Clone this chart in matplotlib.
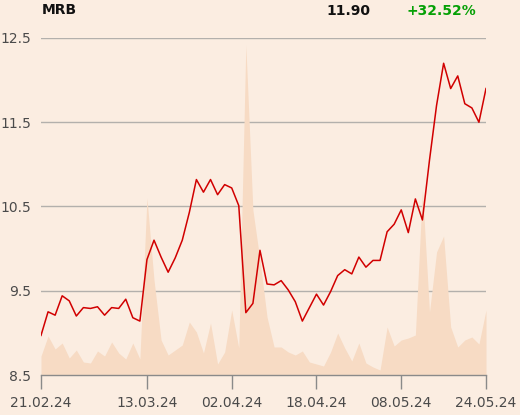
import matplotlib
matplotlib.use("Agg")
import matplotlib.pyplot as plt
import pandas as pd

# ---- data ----
ticker = "MRB"
last_price = "11.90"
change = "+32.52%"

holidays = ["2024-03-29", "2024-04-01", "2024-04-25", "2024-05-01"]
dates = [d for d in pd.bdate_range("2024-02-21", "2024-05-24")
         if d.strftime("%Y-%m-%d") not in holidays]
date_labels = [d.strftime("%d.%m.%y") for d in dates]

tick_labels = ["21.02.24", "13.03.24", "02.04.24", "18.04.24", "08.05.24", "24.05.24"]

price = [8.97, 9.25, 9.21, 9.44, 9.38, 9.20, 9.30, 9.29, 9.31, 9.21,
         9.30, 9.29, 9.40, 9.18, 9.14, 9.87, 10.10, 9.90, 9.72, 9.89,
         10.10, 10.43, 10.82, 10.67, 10.82, 10.64, 10.76, 10.72, 10.51, 9.24,
         9.35, 9.98, 9.58, 9.57, 9.62, 9.51, 9.37, 9.14, 9.30, 9.46,
         9.33, 9.49, 9.68, 9.75, 9.70, 9.90, 9.78, 9.86, 9.86, 10.20,
         10.29, 10.46, 10.19, 10.59, 10.34, 11.05, 11.70, 12.20, 11.90, 12.05,
         11.72, 11.67, 11.50, 11.90]

volume = [19, 39, 26, 32, 17, 25, 13, 12, 24, 19,
          33, 22, 16, 32, 16, 177, 95, 35, 20, 25,
          30, 53, 43, 22, 52, 11, 23, 65, 27, 330,
          165, 115, 58, 28, 28, 23, 20, 24, 13, 11,
          9, 23, 42, 27, 14, 32, 12, 8, 5, 48,
          29, 35, 37, 40, 185, 63, 123, 139, 48, 28,
          35, 38, 31, 65]

y_ticks = [8.5, 9.5, 10.5, 11.5, 12.5]

# ---- plot ----
bg = "#fbede1"
fig = plt.figure(figsize=(5.2, 4.15), dpi=100, facecolor=bg)
ax = fig.add_axes([41/520, 40/415, 445/520, 337/415])
ax2 = ax.twinx()
ax.set_zorder(2)
ax.patch.set_visible(False)
ax2.set_zorder(1)
ax2.patch.set_facecolor(bg)
ax2.patch.set_visible(True)

x = list(range(len(price)))
ax2.fill_between(x, 0, volume, color="#f7dbc4", lw=0, zorder=2)
ax2.set_ylim(0, 337)
ax2.set_yticks([])
for s in ax2.spines.values():
    s.set_visible(False)

for yv in y_ticks:
    ax2.axhline((yv - 8.5) / 4.0 * 337, color="#b3b0ac", lw=1.0, zorder=1)

ax.plot(x, price, color="#d10000", lw=1.1, zorder=3)
ax.set_xlim(0, len(price) - 1)
ax.set_ylim(8.5, 12.5)
ax.set_yticks(y_ticks)
ax.set_yticklabels([f"{v:.1f}" for v in y_ticks])
ax.set_xticks([date_labels.index(t) for t in tick_labels])
ax.set_xticklabels(tick_labels)

for s in ["top", "right", "left"]:
    ax.spines[s].set_visible(False)
ax.spines["bottom"].set_color("#8a8a8a")
ax.spines["bottom"].set_linewidth(1.0)
ax.tick_params(axis="y", length=0, pad=7, labelsize=10, labelcolor="#4a4a4a")
ax.tick_params(axis="x", length=10, width=1.0, color="#8a8a8a", pad=5,
               labelsize=10, labelcolor="#4a4a4a")

fig.text(42/520, 1 - 10/415, ticker, fontsize=10, fontweight="bold",
         color="#111111", ha="left", va="center")
fig.text(370/520, 1 - 11/415, last_price, fontsize=10, fontweight="bold",
         color="#111111", ha="right", va="center")
fig.text(476/520, 1 - 11/415, change, fontsize=10, fontweight="bold",
         color="#05a005", ha="right", va="center")

fig.savefig("out.png", dpi=100, facecolor=bg)
